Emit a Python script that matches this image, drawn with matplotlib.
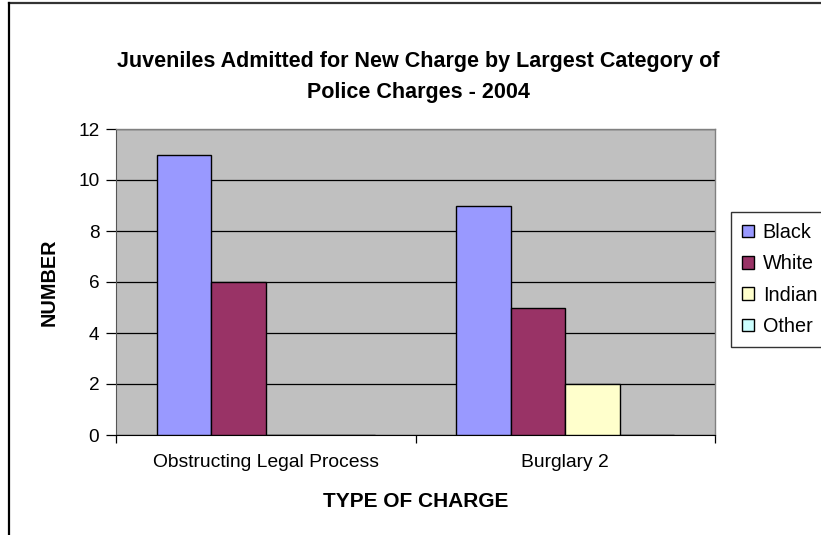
import numpy as np
import matplotlib
matplotlib.use("Agg")
import matplotlib.pyplot as plt
from matplotlib.patches import Patch
from matplotlib.lines import Line2D

plt.rcParams['font.family'] = ['Liberation Sans', 'DejaVu Sans']

title = 'Juveniles Admitted for New Charge by Largest Category of\nPolice Charges - 2004'
charges = ['Obstructing Legal Process', 'Burglary 2']
races = ['Black', 'White', 'Indian', 'Other']
black = [11, 9]
white = [6, 5]
indian = [0, 2]
other = [0, 0]
colors = ['#9999FF', '#993366', '#FFFFCC', '#CCFFFF']

W, H = 821, 535
fig = plt.figure(figsize=(W / 100, H / 100), dpi=100)
ax = fig.add_axes([116 / W, 1 - 435 / H, (715 - 116) / W, (435 - 129) / H])
ax.set_facecolor('#C0C0C0')

series = [black, white, indian, other]
x = np.arange(len(charges))
bw = 1 / 5.5
for i, (vals, c) in enumerate(zip(series, colors)):
    ax.bar(x + (i - 1.5) * bw, vals, width=bw, color=c, edgecolor='black',
           linewidth=1, zorder=3)

ax.set_xlim(-0.5, len(charges) - 0.5)
ax.set_ylim(0, 12)
ax.set_yticks(range(0, 13, 2))
ax.yaxis.grid(True, color='black', linewidth=0.9, zorder=1)
ax.set_axisbelow(True)

ax.set_xticks(x)
ax.set_xticklabels(charges, fontsize=13.9)
ax.set_xticks(np.arange(-0.5, len(charges)), minor=True)
ax.tick_params(axis='x', which='major', length=0, pad=14)
ax.tick_params(axis='x', which='minor', length=6, width=0.9, direction='out')
ax.tick_params(axis='y', length=7, width=0.9, direction='out', labelsize=13.7, pad=5)

for s in ['top', 'right']:
    ax.spines[s].set_color('#808080')
    ax.spines[s].set_linewidth(1)
ax.spines['left'].set_color('#555555')
ax.spines['bottom'].set_color('black')

ax.set_ylabel('NUMBER', fontsize=14.3, fontweight='bold', labelpad=14)
ax.set_xlabel('TYPE OF CHARGE', fontsize=15, fontweight='bold', labelpad=15)

fig.text(418 / W, 1 - 77 / H, title, ha='center', va='center', fontsize=15.5,
         fontweight='bold', linespacing=1.65)

handles = [Patch(facecolor=c, edgecolor='black', linewidth=1) for c in colors]
leg = fig.legend(handles, races, loc='upper left',
                 bbox_to_anchor=(731 / W, 1 - 212 / H), fontsize=14.3,
                 frameon=True, fancybox=False, edgecolor='black',
                 handlelength=0.6, handleheight=0.6, handletextpad=0.45,
                 labelspacing=0.62, borderpad=0.55, borderaxespad=0)
leg.get_frame().set_linewidth(1)

# chart frame, only top and left edges fall inside the image
fig.add_artist(Line2D([9 / W, 1], [1 - 3 / H, 1 - 3 / H], color='#333333', linewidth=1.6))
fig.add_artist(Line2D([9 / W, 9 / W], [0, 1 - 3 / H], color='black', linewidth=1.6))

fig.savefig('out.png', dpi=100)
